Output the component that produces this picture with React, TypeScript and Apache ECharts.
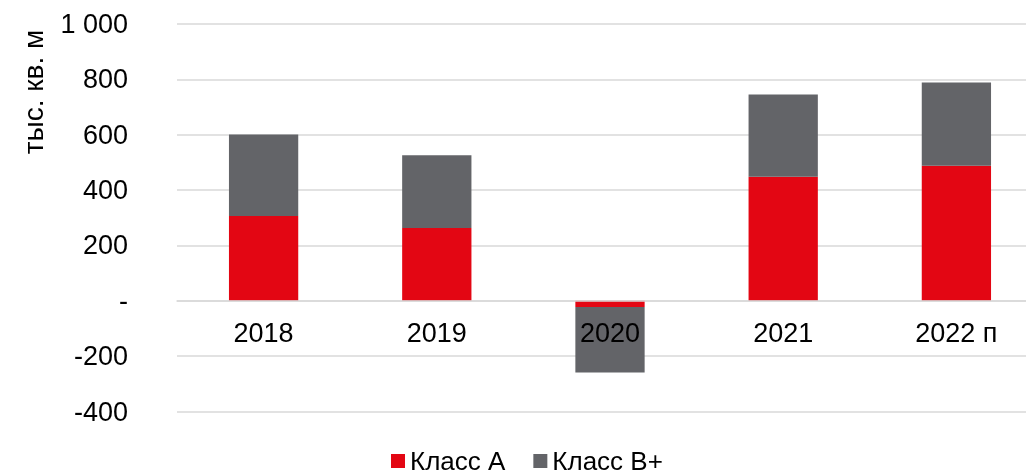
import React, { useEffect, useRef } from "react";
import * as echarts from "echarts";

const categories = ["2018", "2019", "2020", "2021", "2022 п"];
const classA = [306, 263, -22, 448, 488];
const classBPlus = [295, 263, -237, 297, 301];
const yTicks = { min: -400, max: 1000, interval: 200 };
const seriesNames = ["Класс А", "Класс B+"];
const colors = ["#E30613", "#636468"];
const axisName = "тыс. кв. м";

const FONT = "'Liberation Sans', Arial, sans-serif";

export default function App() {
  const ref = useRef<HTMLDivElement>(null);
  useEffect(() => {
    if (!ref.current) return;
    const chart = echarts.init(ref.current, undefined, { renderer: "svg" });
    chart.setOption({
      animation: false,
      textStyle: { fontFamily: FONT },
      grid: { left: 177, top: 24, bottom: 64.5, right: 7 },
      legend: {
        data: seriesNames,
        left: 386,
        top: 443,
        itemWidth: 14,
        itemHeight: 14,
        itemGap: 28,
        icon: "rect",
        textStyle: { fontFamily: FONT, fontSize: 26, color: "#000" },
      },
      graphic: [
        {
          type: "text",
          x: 33,
          y: 92,
          rotation: Math.PI / 2,
          style: {
            text: axisName,
            fontFamily: FONT,
            fontSize: 28,
            fill: "#000",
            textAlign: "center",
            textVerticalAlign: "middle",
          },
        },
      ],
      xAxis: {
        type: "category",
        data: categories,
        z: 10,
        offset: -111,
        axisLine: { onZero: false, lineStyle: { color: "#d9d9d9", width: 1.5 } },
        axisTick: { show: false },
        axisLabel: { fontFamily: FONT, fontSize: 27, color: "#000", margin: 19 },
      },
      yAxis: {
        type: "value",
        min: yTicks.min,
        max: yTicks.max,
        interval: yTicks.interval,
        axisLine: { show: false },
        axisTick: { show: false },
        splitLine: { lineStyle: { color: "#d9d9d9", width: 1.5 } },
        axisLabel: {
          fontFamily: FONT,
          fontSize: 27,
          color: "#000",
          margin: 49,
          formatter: (v: number) =>
            v === 0 ? "-" : String(v).replace(/\B(?=(\d{3})+(?!\d))/g, " "),
        },
      },
      series: [
        {
          name: seriesNames[0],
          type: "bar",
          stack: "total",
          barWidth: "40%",
          data: classA,
          itemStyle: { color: colors[0] },
        },
        {
          name: seriesNames[1],
          type: "bar",
          stack: "total",
          barWidth: "40%",
          data: classBPlus,
          itemStyle: { color: colors[1] },
        },
      ],
    });
    return () => chart.dispose();
  }, []);
  return (
    <div
      style={{
        position: "fixed",
        left: 0,
        top: 0,
        width: 1026,
        height: 476,
        overflow: "hidden",
      }}
    >
      <div ref={ref} style={{ width: 1050, height: 476 }} />
    </div>
  );
}
